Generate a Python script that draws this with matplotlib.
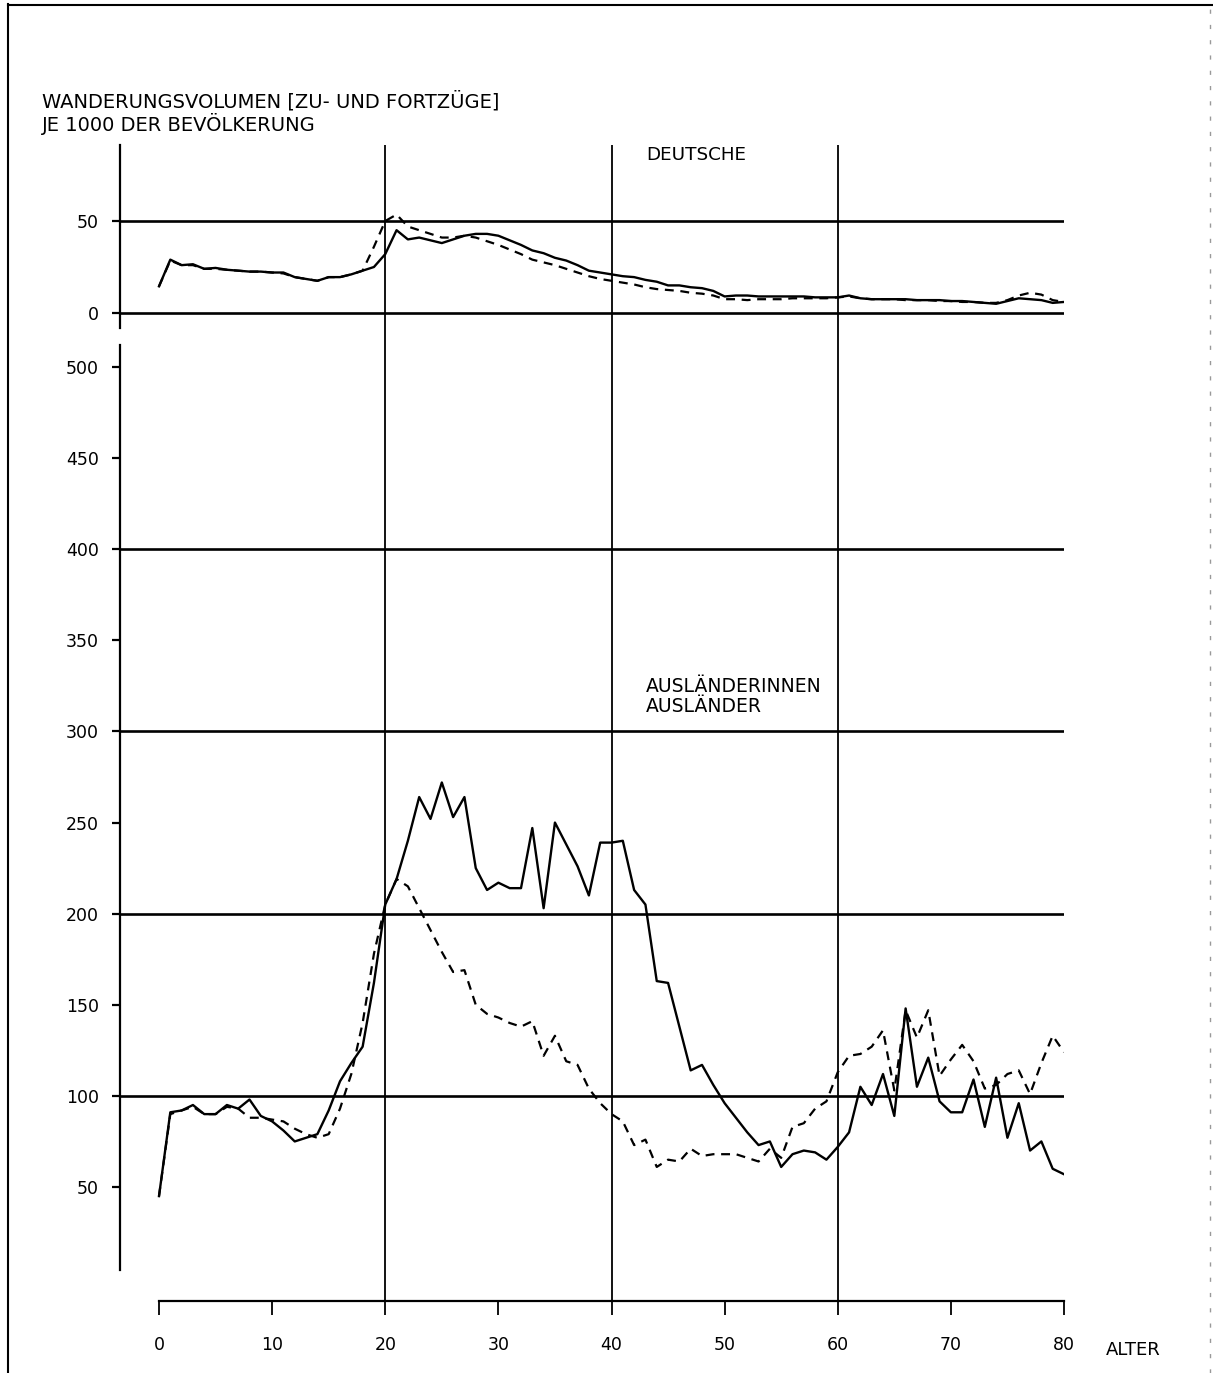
import matplotlib
matplotlib.use("Agg")
import matplotlib.pyplot as plt

# ---------------- data ----------------
ages = list(range(0, 81))

# Deutsche (upper panel)
deutsche_maenner = [14.5, 29, 26, 26.5, 24, 24.5, 23.5, 23, 22.5, 22.5,
                    22, 22, 19.5, 18.5, 17.5, 19.5, 19.5, 21, 23, 25,
                    32, 45, 40, 41, 39.5, 38, 40, 42, 43, 43,
                    42, 39.5, 37, 34, 32.5, 30, 28.5, 26, 23, 22,
                    21, 20, 19.5, 18, 17, 15, 15, 14, 13.5, 12,
                    9, 9.5, 9.5, 9, 9, 9, 9, 9, 8.5, 8.5,
                    8.5, 9.5, 8, 7.5, 7.5, 7.5, 7.5, 7, 7, 7,
                    6.5, 6.5, 6, 5.5, 5, 6.5, 8, 7.5, 7, 5.5,
                    6]
deutsche_frauen = [14.5, 28.5, 26, 26, 24, 24, 23.5, 23, 22.5, 22.5,
                   22, 21.5, 19.5, 18.5, 17.5, 19.5, 19.5, 21, 23, 36,
                   50, 53.5, 47, 45, 43, 41, 41, 42, 41, 39,
                   37, 34.5, 32, 29, 27.5, 26, 24, 22, 20, 18.5,
                   17.5, 16.5, 15.5, 14, 13, 12.5, 12, 11, 10.5, 9.5,
                   7.5, 7.5, 7, 7.5, 7.5, 7.5, 8, 8, 8, 8,
                   8.5, 9, 8, 7.5, 7.5, 7.5, 7, 7, 7, 6.5,
                   6.5, 6, 6, 5.5, 5.5, 7, 9.5, 11, 10, 7,
                   6]

# Ausländer (lower panel)
auslaender = [45, 91, 92, 95, 90, 90, 95, 93, 98, 89,
              86, 81, 75, 77, 79, 92, 108, 118, 127, 162,
              205, 219, 240, 264, 252, 272, 253, 264, 225, 213,
              217, 214, 214, 247, 203, 250, 238, 226, 210, 239,
              239, 240, 213, 205, 163, 162, 138, 114, 117, 106,
              96, 88, 80, 73, 75, 61, 68, 70, 69, 65,
              72, 80, 105, 95, 112, 89, 148, 105, 121, 97,
              91, 91, 109, 83, 110, 77, 96, 70, 75, 60,
              57]
auslaenderinnen = [45, 90, 92, 94, 90, 90, 94, 93, 88, 88,
                   87, 86, 82, 79, 77, 79, 93, 112, 140, 178,
                   205, 219, 215, 203, 191, 179, 168, 169, 150, 145,
                   143, 140, 138, 141, 122, 133, 119, 117, 104, 96,
                   90, 86, 73, 76, 61, 65, 64, 71, 67, 68,
                   68, 68, 66, 64, 71, 66, 83, 85, 93, 97,
                   113, 122, 123, 127, 136, 103, 147, 132, 147, 111,
                   120, 128, 119, 104, 106, 112, 114, 101, 118, 133,
                   124]

x_ticks = [0, 10, 20, 30, 40, 50, 60, 70, 80]
x_ticklabels = ["0", "10", "20", "30", "40", "50", "60", "70", "80"]
top_ticks = [0, 50]
bottom_ticks = [50, 100, 150, 200, 250, 300, 350, 400, 450, 500]
bottom_grid = [100, 200, 300, 400]
top_grid = [0, 50]
vlines = [20, 40, 60]

title_lines = ["WANDERUNGSVOLUMEN [ZU- UND FORTZÜGE]", "JE 1000 DER BEVÖLKERUNG"]

# ---------------- layout ----------------
W, H = 1213, 1373
fig = plt.figure(figsize=(W / 100, H / 100), dpi=100)
plt.rcParams["font.family"] = ["DejaVu Sans"]


def box(l, t, r, b):
    return [l / W, 1 - b / H, (r - l) / W, (b - t) / H]


ppy = (1064 - 159) / 80.0
xleft = (120 - 159) / ppy
FS = 12.5
K = "black"

# frame axes: vertical lines and bottom age axis
axf = fig.add_axes(box(120, 145, 1064, 1301))
axf.patch.set_visible(False)
axf.set_xlim(xleft, 80)
axf.set_ylim(0, 1)
for s in ["top", "right", "left"]:
    axf.spines[s].set_visible(False)
axf.spines["bottom"].set_bounds(0, 80)
axf.spines["bottom"].set_linewidth(1.6)
axf.set_yticks([])
axf.set_xticks(x_ticks)
axf.set_xticklabels(x_ticklabels)
axf.tick_params(axis="x", direction="out", length=10, width=1.3, pad=15,
                labelsize=FS, colors=K)
for v in vlines:
    axf.axvline(v, color=K, lw=1.3, zorder=1)

# upper panel
axt = fig.add_axes(box(120, 145, 1064, 328))
axt.patch.set_visible(False)
axt.set_xlim(xleft, 80)
axt.set_ylim((313 - 328) / 1.84, (313 - 145) / 1.84)
for s in ["top", "right", "bottom"]:
    axt.spines[s].set_visible(False)
axt.spines["left"].set_linewidth(1.6)
axt.set_xticks([])
axt.set_yticks(top_ticks)
axt.tick_params(axis="y", direction="out", length=6, width=1.6, pad=9,
                labelsize=FS, colors=K)
for g in top_grid:
    axt.axhline(g, color=K, lw=1.9, zorder=2)
axt.plot(ages, deutsche_maenner, color=K, lw=1.7, zorder=3)
axt.plot(ages, deutsche_frauen, color=K, lw=1.6, ls=(0, (4, 3)), zorder=3)
axt.text(43.05, (313 - 155) / 1.84, "DEUTSCHE", fontsize=13.2, va="center", ha="left")

# lower panel
s_b = 820 / 450.0
axb = fig.add_axes(box(120, 345, 1064, 1270))
axb.patch.set_visible(False)
axb.set_xlim(xleft, 80)
axb.set_ylim(50 + (1187 - 1270) / s_b, 50 + (1187 - 345) / s_b)
for s in ["top", "right", "bottom"]:
    axb.spines[s].set_visible(False)
axb.spines["left"].set_linewidth(1.6)
axb.set_xticks([])
axb.set_yticks(bottom_ticks)
axb.tick_params(axis="y", direction="out", length=6, width=1.6, pad=9,
                labelsize=FS, colors=K)
for g in bottom_grid:
    axb.axhline(g, color=K, lw=1.9, zorder=2)
axb.plot(ages, auslaender, color=K, lw=1.7, zorder=3)
axb.plot(ages, auslaenderinnen, color=K, lw=1.6, ls=(0, (4, 3)), zorder=3)
axb.text(43.05, 50 + (1187 - 687) / s_b, "AUSLÄNDERINNEN", fontsize=13.5,
         va="center", ha="left")
axb.text(43.05, 50 + (1187 - 706) / s_b, "AUSLÄNDER", fontsize=13.5,
         va="center", ha="left")

# titles and axis name
fig.text(42 / W, 1 - 101 / H, title_lines[0], fontsize=14, va="center", ha="left")
fig.text(42 / W, 1 - 124 / H, title_lines[1], fontsize=14, va="center", ha="left")
fig.text(1133 / W, 1 - 1350 / H, "ALTER", fontsize=13, va="center", ha="center")

# page border
fig.add_artist(plt.Line2D([8 / W, 8 / W], [0, 1 - 4 / H], color=K, lw=1.5))
fig.add_artist(plt.Line2D([8 / W, 1], [1 - 5 / H, 1 - 5 / H], color=K, lw=1.5))
fig.add_artist(plt.Line2D([1210 / W, 1210 / W], [0, 1], color="#999999",
                          lw=1.0, ls=(0, (3, 8))))

fig.savefig("out.png", dpi=100, facecolor="white")
